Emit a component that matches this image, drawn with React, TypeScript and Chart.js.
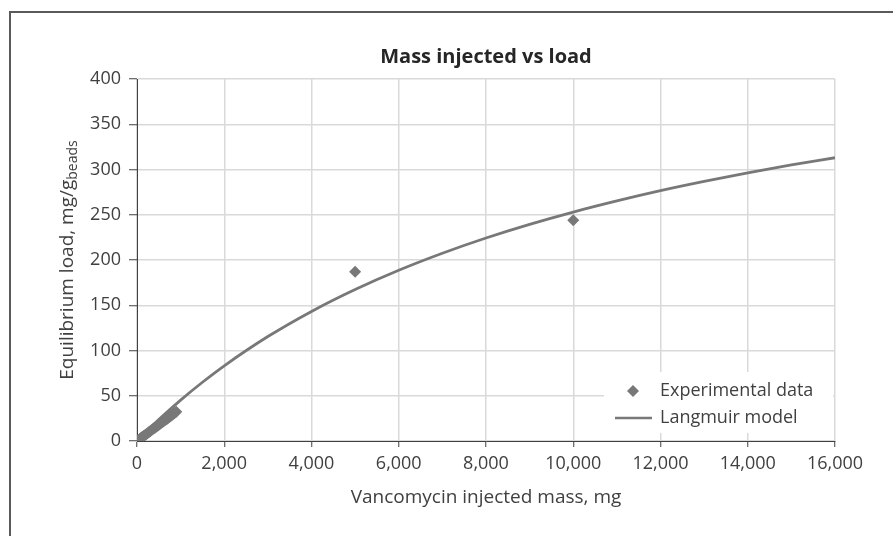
import React, { useEffect, useRef } from "react";
import { Chart, registerables } from "chart.js";

Chart.register(...registerables);

const titleText = "Mass injected vs load";
const xTitle = "Vancomycin injected mass, mg";
const yTitleMain = "Equilibrium load, mg/g";
const yTitleSub = "beads";
const legendLabels = ["Experimental data", "Langmuir model"];

const expMass = [0, 30, 60, 90, 120, 150, 180, 210, 240, 270, 300, 330, 360, 390, 420, 450, 480, 510, 540, 570, 600, 630, 660, 690, 720, 750, 780, 810, 840, 870, 900, 5000, 10000];
const expLoad = [0, 1.1, 2.1, 3.2, 4.3, 5.4, 6.4, 7.5, 8.6, 9.7, 10.8, 11.8, 12.9, 14.0, 15.0, 16.1, 17.2, 18.3, 19.3, 20.4, 21.5, 22.6, 23.6, 24.7, 25.8, 26.9, 27.9, 29.0, 30.1, 31.2, 32.3, 187, 244];

const modelMass = [0, 500, 1000, 1500, 2000, 3000, 4000, 5000, 6000, 7000, 8000, 9000, 10000, 11000, 12000, 13000, 14000, 15000, 16000];
const modelLoad = [0, 23.6, 45.2, 64.9, 83.1, 115.4, 143.2, 167.4, 188.7, 207.5, 224.3, 239.4, 253.0, 265.3, 276.6, 286.8, 296.3, 305.0, 313.0];

const FONT = "'Open Sans', 'Noto Sans', sans-serif";
const GRAY = "#787878";
const TEXT = "#404040";

export default function App() {
  const ref = useRef<HTMLCanvasElement>(null);

  useEffect(() => {
    document.body.style.margin = "0";
    document.body.style.overflow = "hidden";
    const canvas = ref.current;
    if (!canvas) return;

    const decor = {
      id: "decor",
      beforeDraw(chart: any) {
        const ctx = chart.ctx;
        ctx.save();
        ctx.fillStyle = "#ffffff";
        ctx.fillRect(0, 0, chart.width, chart.height);
        ctx.strokeStyle = "#5a5a5a";
        ctx.lineWidth = 2;
        ctx.strokeRect(10, 12, 1000, 1000);
        ctx.restore();
      },
      afterDraw(chart: any) {
        const ctx = chart.ctx;
        const ca = chart.chartArea;
        const cx = (ca.left + ca.right) / 2;
        ctx.save();
        // title
        ctx.fillStyle = "#262626";
        ctx.font = `bold 20px ${FONT}`;
        ctx.textAlign = "center";
        ctx.textBaseline = "middle";
        ctx.fillText(titleText, cx, 57);
        // x title
        ctx.fillStyle = TEXT;
        ctx.font = `19px ${FONT}`;
        ctx.fillText(xTitle, cx, 498);
        // y title
        ctx.save();
        ctx.translate(73, (ca.top + ca.bottom) / 2);
        ctx.rotate(-Math.PI / 2);
        ctx.textAlign = "left";
        ctx.textBaseline = "alphabetic";
        ctx.font = `19px ${FONT}`;
        const w1 = ctx.measureText(yTitleMain).width;
        ctx.font = `14px ${FONT}`;
        const w2 = ctx.measureText(yTitleSub).width;
        const start = -(w1 + w2) / 2;
        ctx.font = `19px ${FONT}`;
        ctx.fillText(yTitleMain, start, 0);
        ctx.font = `14px ${FONT}`;
        ctx.fillText(yTitleSub, start + w1, 4);
        ctx.restore();
        // legend
        ctx.fillStyle = "#ffffff";
        ctx.fillRect(604, 372, 229, 61);
        ctx.fillStyle = GRAY;
        const mx = 633, my = 391, r = 6;
        ctx.beginPath();
        ctx.moveTo(mx, my - r);
        ctx.lineTo(mx + r, my);
        ctx.lineTo(mx, my + r);
        ctx.lineTo(mx - r, my);
        ctx.closePath();
        ctx.fill();
        ctx.strokeStyle = GRAY;
        ctx.lineWidth = 2.5;
        ctx.beginPath();
        ctx.moveTo(615, 418);
        ctx.lineTo(652, 418);
        ctx.stroke();
        ctx.fillStyle = TEXT;
        ctx.font = `18px ${FONT}`;
        ctx.textAlign = "left";
        ctx.textBaseline = "middle";
        ctx.fillText(legendLabels[0], 660, my);
        ctx.fillText(legendLabels[1], 660, 418);
        ctx.restore();
      },
    };

    const chart = new Chart(canvas, {
      type: "scatter",
      data: {
        datasets: [
          {
            label: legendLabels[0],
            data: expMass.map((x, i) => ({ x, y: expLoad[i] })),
            pointStyle: "rectRot",
            pointRadius: 6,
            pointBackgroundColor: GRAY,
            pointBorderColor: GRAY,
            pointBorderWidth: 0,
            showLine: false,
          },
          {
            label: legendLabels[1],
            data: modelMass.map((x, i) => ({ x, y: modelLoad[i] })),
            showLine: true,
            pointRadius: 0,
            borderColor: GRAY,
            borderWidth: 2.8,
            cubicInterpolationMode: "monotone",
          },
        ],
      },
      options: {
        responsive: false,
        animation: false,
        devicePixelRatio: 1,
        layout: { padding: { top: 79, left: 0, right: 58, bottom: 45 } },
        plugins: {
          legend: { display: false },
          title: { display: false },
          tooltip: { enabled: false },
        },
        scales: {
          x: {
            type: "linear",
            min: 0,
            max: 16000,
            afterFit: (s: any) => {
              s.height = 50;
            },
            ticks: {
              stepSize: 2000,
              color: TEXT,
              font: { family: FONT, size: 18 },
              padding: 6,
              maxRotation: 0,
              callback: (v: any) => Number(v).toLocaleString("en-US"),
            },
            grid: { color: "#d9d9d9", lineWidth: 1.5, tickLength: 6, tickColor: "#404040", tickWidth: 1 },
            border: { color: "#404040", width: 1 },
          },
          y: {
            min: 0,
            max: 400,
            afterFit: (s: any) => {
              s.width = 137;
            },
            ticks: {
              stepSize: 50,
              color: TEXT,
              font: { family: FONT, size: 18 },
              padding: 8,
            },
            grid: { color: "#d9d9d9", lineWidth: 1.5, tickLength: 8, tickColor: "#404040", tickWidth: 1 },
            border: { color: "#404040", width: 1 },
          },
        },
      },
      plugins: [decor],
    });
    return () => chart.destroy();
  }, []);

  return <canvas ref={ref} width={893} height={536} style={{ display: "block" }} />;
}
